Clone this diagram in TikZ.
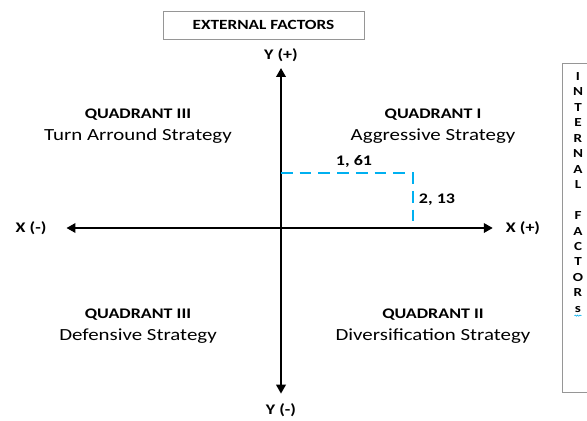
\documentclass[tikz,border=0pt]{standalone}
\usepackage{fontspec}
\setmainfont{Carlito}[FakeStretch=1.23]
\usetikzlibrary{arrows.meta,positioning,decorations.pathmorphing}
\definecolor{qdblue}{RGB}{0,176,240}
\definecolor{qdframe}{RGB}{150,150,150}
\tikzset{
  axis/.style={-{Triangle[length=2.7mm,width=2.8mm]}, draw=black, line width=2.3pt, shorten >=#1},
  axis/.default=1.5mm,
  posline/.style={draw=qdblue, line width=2.3pt, dash pattern=on 10pt off 6pt},
  tag/.style={font=\fontsize{12.5}{14}\selectfont\bfseries, inner sep=1pt},
  quad/.style={align=center, font=\fontsize{14.5}{19}\selectfont},
  frame/.style={draw=qdframe, line width=0.6pt, inner sep=0pt},
  every picture/.append style={x=0.03cm, y=-0.03cm}
}
\begin{document}
\begin{tikzpicture}
  \useasboundingbox[fill=white] (0,0) rectangle (587,421);
  % factor boxes
  \node[frame, minimum width=201*0.03cm, minimum height=28*0.03cm, tag, font=\fontsize{12}{14}\selectfont\bfseries] (ext) at (263.5,25) {EXTERNAL FACTORS};
  \node[frame, anchor=north west, minimum width=40*0.03cm, minimum height=329*0.03cm] (int) at (562,63) {};
  \node[tag, align=center, font=\fontsize{10.5}{13.2}\selectfont\bfseries, anchor=north] (intl) at (578,71)
    {I\\N\\T\\E\\R\\N\\A\\L\\[13.2pt]F\\A\\C\\T\\O\\R\\s};
  \draw[qdblue, line width=0.5pt, decorate, decoration={snake, amplitude=0.5pt, segment length=2pt}]
    ([xshift=-3pt, yshift=-1.5pt]intl.south) -- ([xshift=3pt, yshift=-1.5pt]intl.south);
  % axis labels
  \node[tag] (yp) at (281,55) {Y (+)};
  \node[tag] (ym) at (281,410) {Y (-)};
  \node[tag] (xm) at (31,228) {X (-)};
  \node[tag] (xp) at (523,228) {X (+)};
  \coordinate (o) at (281,228);
  % axes
  \draw[axis] (o) -- (yp);
  \draw[axis=2.5mm] (o) -- (ym);
  \draw[axis=5.6mm] (o) -- (xm);
  \draw[axis=3.5mm] (o) -- (xp);
  % quadrants
  \node[quad] (q3) at (138,126) {\fontsize{12.5}{19}\selectfont\textbf{QUADRANT III}\\Turn Arround Strategy};
  \node[quad] (q1) at (433,126) {\fontsize{12.5}{19}\selectfont\textbf{QUADRANT I}\\Aggressive Strategy};
  \node[quad] (q4) at (138,326) {\fontsize{12.5}{19}\selectfont\textbf{QUADRANT III}\\Defensive Strategy};
  \node[quad] (q2) at (433,326) {\fontsize{12.5}{19}\selectfont\textbf{QUADRANT II}\\Diversification Strategy};
  % position of the firm
  \coordinate (py) at (281,173);
  \coordinate (pc) at (413,173);
  \coordinate (px) at (413,228);
  \draw[posline] (py) -- (pc) -- (px);
  \node[tag] (vy) at (354,161) {1, 61};
  \node[tag] (vx) at (437,200) {2, 13};
\end{tikzpicture}
\end{document}
